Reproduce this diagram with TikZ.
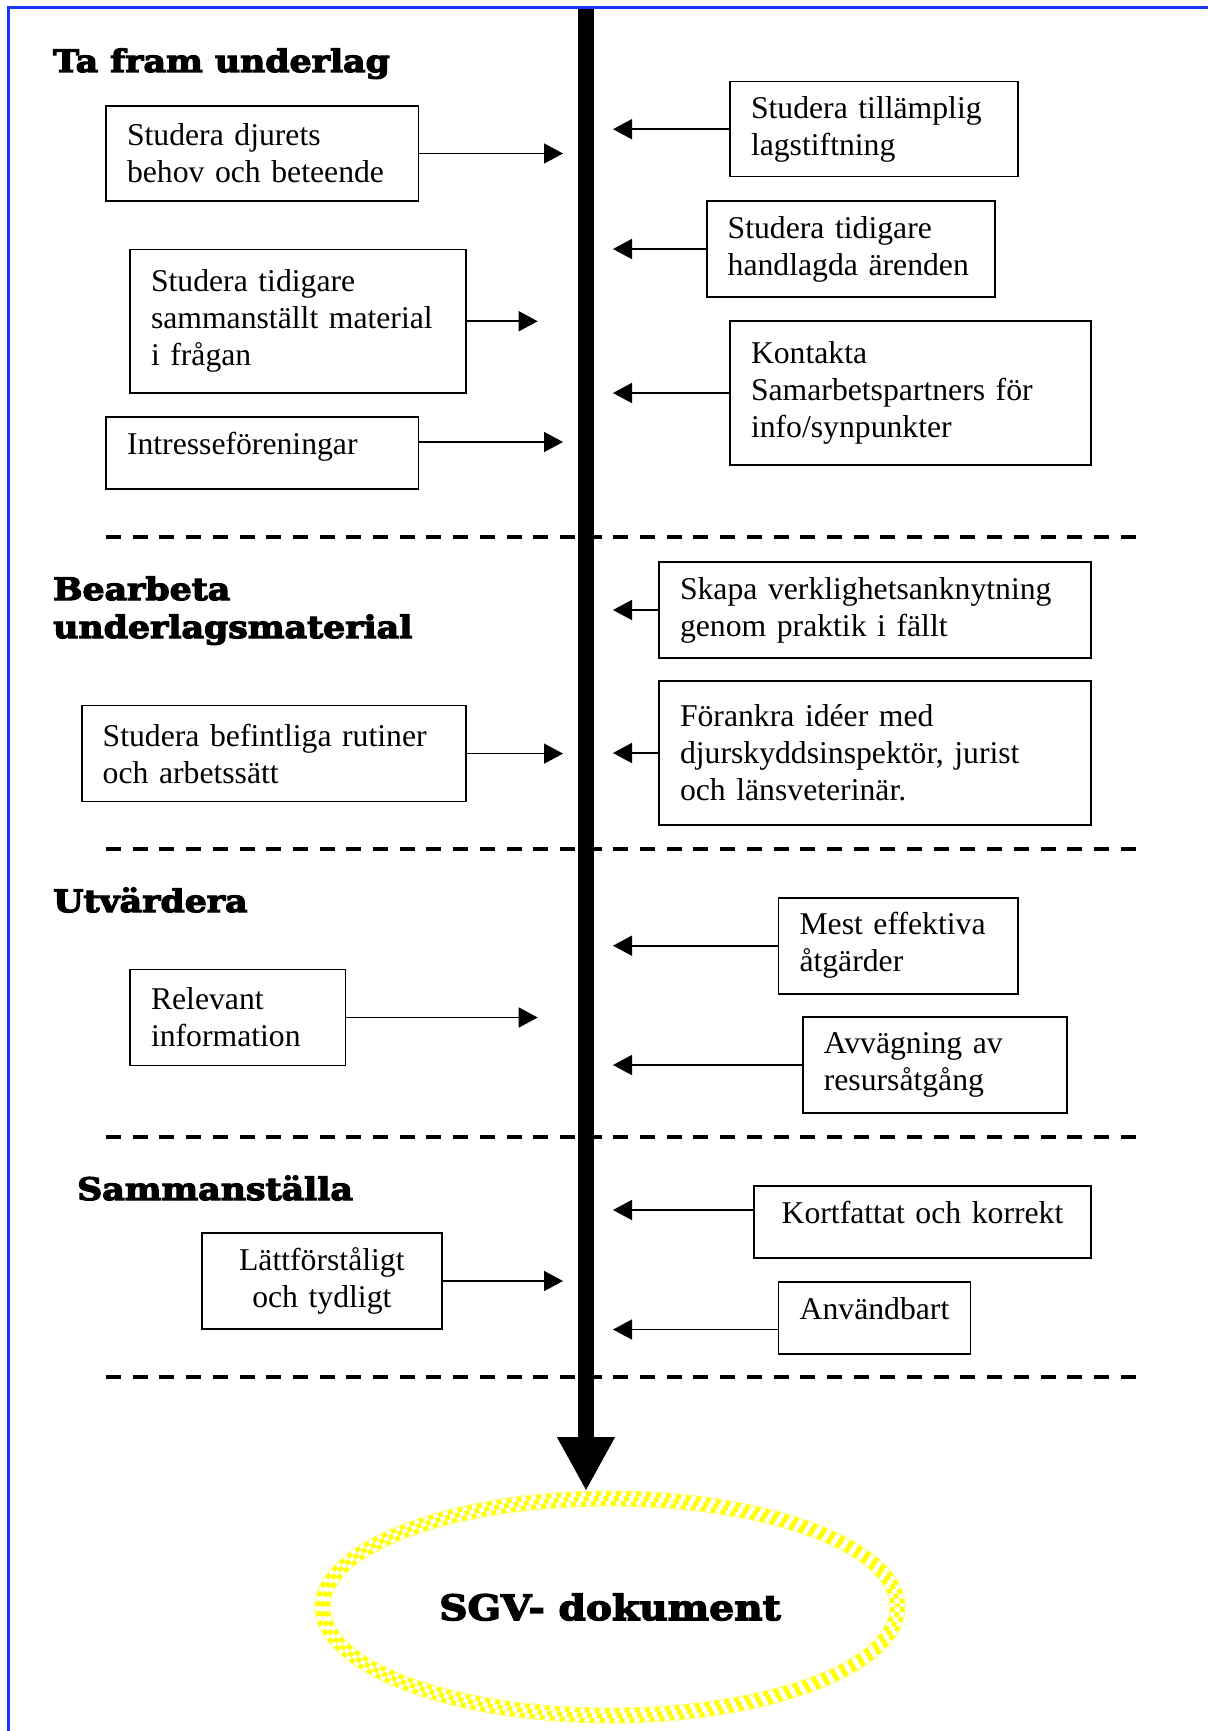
\documentclass[tikz,border=0pt]{standalone}
\usepackage{fontspec}
\setmainfont{Liberation Serif}
\newfontfamily\headfont{DejaVu Serif Bold}[FakeBold=4, FakeStretch=1.12]
\usetikzlibrary{arrows.meta,shapes.geometric,calc}
\newcommand\bxfont{\fontsize{31.7}{37}\selectfont}
\newcommand\hdfont{\headfont\fontsize{31}{38}\selectfont}
\newcommand\docfont{\headfont\fontsize{35}{40}\selectfont}
\definecolor{frameblue}{RGB}{25,55,250}
\definecolor{ringyellow}{RGB}{255,255,0}
\begin{document}
\begin{tikzpicture}[x=1pt,y=-1pt,
  box/.style={draw, line width=1.6pt, anchor=north west, inner xsep=21pt, inner ysep=0pt,
    outer sep=0pt, font=\bxfont, align=left},
  onel/.style={text height=22pt, text depth=20pt},
  arr/.style={line width=1.6pt, -{Triangle[length=19pt,width=20pt]}},
  head/.style={anchor=base west, inner sep=0pt, font=\hdfont},
  sep/.style={line width=4pt, dash pattern=on 15pt off 11.7pt},
  frame/.style={draw=frameblue, line width=3pt},
  ring/.style={ringyellow, line width=4.8pt, dash pattern=on 5pt off 5pt}]
\useasboundingbox (0,0) rectangle (1208,1731);
% frame
\draw[frame] (8.7,1731) -- (8.7,8) -- (1208,8);
% tip columns
\coordinate (tipL) at (563,0);
\coordinate (tipLs) at (537.7,0);
\coordinate (tipR) at (613,0);
\coordinate (bartop) at (586,9.5);
% headings
\node[head] (h1) at (53,72) {Ta fram underlag};
\node[head] (h2a) at (53,600) {Bearbeta};
\node[head] (h2b) at (53,638) {underlagsmaterial};
\node[head] (h3) at (53,912) {Utvärdera};
\node[head] (h4) at (77,1200) {Sammanställa};
% separators
\draw[sep] (106,536.5) -- (1138,536.5);
\draw[sep] (106,849) -- (1138,849);
\draw[sep] (106,1137) -- (1138,1137);
\draw[sep] (106,1377) -- (1138,1377);
% boxes left
\node[box, minimum width=312.5pt, minimum height=95pt, text width=270.5pt] (b1) at (106,106) {Studera djurets\\behov och beteende};
\node[box, minimum width=336pt, minimum height=143.5pt, text width=294pt] (b2) at (130,249.5) {Studera tidigare\\sammanställt material\\i frågan};
\node[box, onel, minimum width=312.5pt, minimum height=72pt, text width=270.5pt] (b3) at (106,417) {Intresseföreningar};
\node[box, minimum width=384pt, minimum height=96pt, text width=342pt] (b4) at (81.7,705.6) {Studera befintliga rutiner\\och arbetssätt};
\node[box, minimum width=215.6pt, minimum height=96pt, text width=173.6pt] (b5) at (130,969.5) {Relevant\\information};
\node[box, align=center, minimum width=239.7pt, minimum height=96pt, text width=197.7pt] (b6) at (202,1233) {Lättförståligt\\och tydligt};
% boxes right
\node[box, minimum width=288pt, minimum height=95pt, text width=246pt] (r1) at (730,81.7) {Studera tillämplig\\lagstiftning};
\node[box, minimum width=288pt, minimum height=96pt, text width=246pt] (r2) at (706.7,201) {Studera tidigare\\handlagda ärenden};
\node[box, minimum width=361pt, minimum height=144pt, text width=319pt] (r3) at (730,321) {Kontakta\\Samarbetspartners för\\info/synpunkter};
\node[box, minimum width=432pt, minimum height=96pt, text width=390pt] (r4) at (659,562) {Skapa verklighetsanknytning\\genom praktik i fällt};
\node[box, minimum width=432pt, minimum height=144pt, text width=390pt] (r5) at (659,681) {Förankra idéer med\\djurskyddsinspektör, jurist\\och länsveterinär.};
\node[box, minimum width=239.5pt, minimum height=96pt, text width=197.5pt] (r6) at (778.5,897.7) {Mest effektiva\\åtgärder};
\node[box, minimum width=264pt, minimum height=96pt, text width=222pt] (r7) at (802.8,1017) {Avvägning av\\resursåtgång};
\node[box, onel, align=center, minimum width=337pt, minimum height=72pt, text width=295pt] (r8) at (754,1186) {Kortfattat och korrekt};
\node[box, onel, align=center, minimum width=192pt, minimum height=72pt, text width=150pt] (r9) at (778.5,1282) {Användbart};
% shifted arrow starts
\path ([yshift=11pt]b3.east) coordinate (b3a);
\path ([yshift=12pt]r8.west) coordinate (r8a);
\path ([yshift=-11.5pt]r9.west) coordinate (r9a);
% arrows
\draw[arr] (b1.east) -- (b1.east -| tipL);
\draw[arr] (b2.east) -- (b2.east -| tipLs);
\draw[arr] (b3a) -- (b3a -| tipL);
\draw[arr] (b4.east) -- (b4.east -| tipL);
\draw[arr] (b5.east) -- (b5.east -| tipLs);
\draw[arr] (b6.east) -- (b6.east -| tipL);
\draw[arr] (r1.west) -- (r1.west -| tipR);
\draw[arr] (r2.west) -- (r2.west -| tipR);
\draw[arr] (r3.west) -- (r3.west -| tipR);
\draw[arr] (r4.west) -- (r4.west -| tipR);
\draw[arr] (r5.west) -- (r5.west -| tipR);
\draw[arr] (r6.west) -- (r6.west -| tipR);
\draw[arr] (r7.west) -- (r7.west -| tipR);
\draw[arr] (r8a) -- (r8a -| tipR);
\draw[arr] (r9a) -- (r9a -| tipR);
% document ellipse
\node[ellipse, minimum width=590pt, minimum height=232pt, inner sep=0pt, outer sep=0pt,
  font=\docfont] (doc) at (610,1607) {SGV- dokument};
\draw[ring] (doc.center) ellipse [x radius=292.5, y radius=113.5];
\draw[ring, dash phase=5pt] (doc.center) ellipse [x radius=287.5, y radius=108.5];
\draw[ring] (doc.center) ellipse [x radius=282.5, y radius=103.5];
\draw[ringyellow!60, line width=0.8pt] (doc.center) ellipse [x radius=295, y radius=116];
\draw[ringyellow!60, line width=0.8pt] (doc.center) ellipse [x radius=280, y radius=101];
% main bar
\draw[line width=16pt, -{Triangle[length=54pt,width=54pt]}] (bartop) -- (bartop |- doc.north);
\end{tikzpicture}
\end{document}
